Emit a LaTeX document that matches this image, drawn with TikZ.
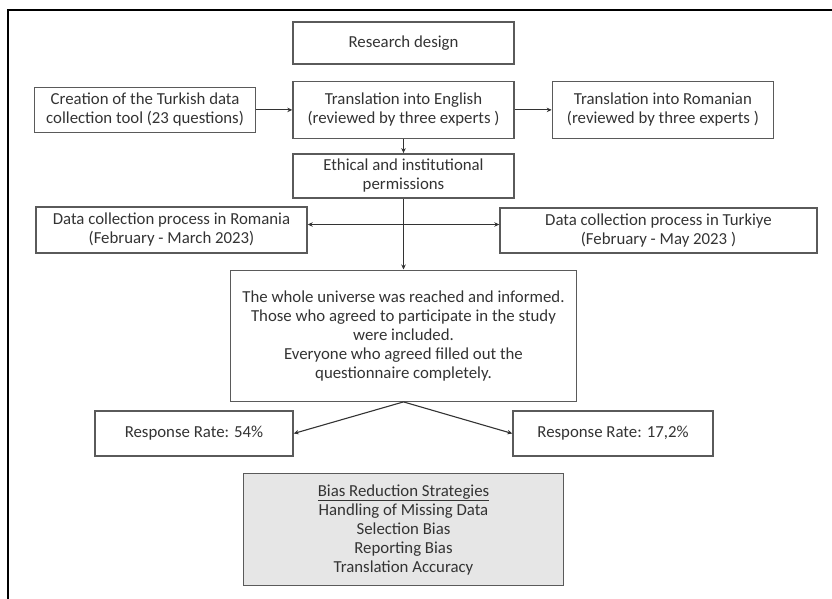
\documentclass[tikz,border=0pt]{standalone}
\usepackage{fontspec}
\setmainfont{Carlito}
\usepackage{tikz}
\usetikzlibrary{positioning, arrows.meta}
\definecolor{boxline}{HTML}{5A5A5A}
\definecolor{textgray}{HTML}{333333}
\definecolor{biasfill}{HTML}{E6E6E6}

\begin{document}
\begin{tikzpicture}[
        x=1pt, y=1pt,
        node distance = 16pt and 36pt,
        box/.style  = {draw=boxline, line width=1.4pt, minimum height=45pt, minimum width=221pt, align=center, text=textgray, inner sep=2pt, font=\fontsize{16.8}{19}\selectfont},
        arrow/.style = {-{Stealth[length=5pt, width=4.5pt]}, line width=1.1pt, draw=textgray},
    ]
        \useasboundingbox (0,0) rectangle (832,-599);
        % outer frame
        \draw[line width=2pt] (8,-599) -- (8,-10) -- (832,-10);

        \node[box, minimum height=42pt] (design) at (403.5,-43) {Research design};
        \node[box, minimum height=57pt, below=16pt of design] (english) {Translation into English\\(reviewed by three experts )};
        \node[box, left=36pt of english] (create) {Creation of the Turkish data\\collection tool (23 questions)};
        \node[box, minimum height=57pt, right=37pt of english] (romanian) {Translation into Romanian\\(reviewed by three experts )};
        \node[box, minimum height=44pt, below=14pt of english] (ethics) {Ethical and institutional\\permissions};
        \coordinate[below=26pt of ethics] (fork);
        \node[box, minimum width=271pt, minimum height=46pt] (romania) at (171.5,-230) {Data collection process in Romania\\(February - March 2023)};
        \node[box, minimum width=317pt] (turkiye) at (658.5,-230.5) {Data collection process in Turkiye\\(February - May 2023 )};
        \node[box, minimum width=346pt, minimum height=131pt, below=71pt of ethics] (universe) {The whole universe was reached and informed.\\Those who agreed to participate in the study\\were included.\\Everyone who agreed filled out the\\questionnaire completely.};
        \node[box, minimum width=198pt] (rate54) at (194,-433.5) {Response Rate: 54\%};
        \node[box, minimum width=200pt] (rate17) at (613,-433.5) {Response Rate: 17,2\%};
        \node[box, fill=biasfill, minimum width=320pt, minimum height=112pt, below=71pt of universe] (bias) {\underline{Bias Reduction Strategies}\\Handling of Missing Data\\Selection Bias\\Reporting Bias\\Translation Accuracy};

        \draw[arrow] (create) -- (english);
        \draw[arrow] (english) -- (romanian);
        \draw[arrow] (english) -- (ethics);
        \draw[arrow] (ethics) -- (universe);
        \draw[arrow] (fork) -- (fork -| romania.east);
        \draw[arrow] (fork) -- (fork -| turkiye.west);
        \draw[arrow] (universe.south) -- (rate54.east);
        \draw[arrow] (universe.south) -- (rate17.west);
    \end{tikzpicture}
\end{document}
